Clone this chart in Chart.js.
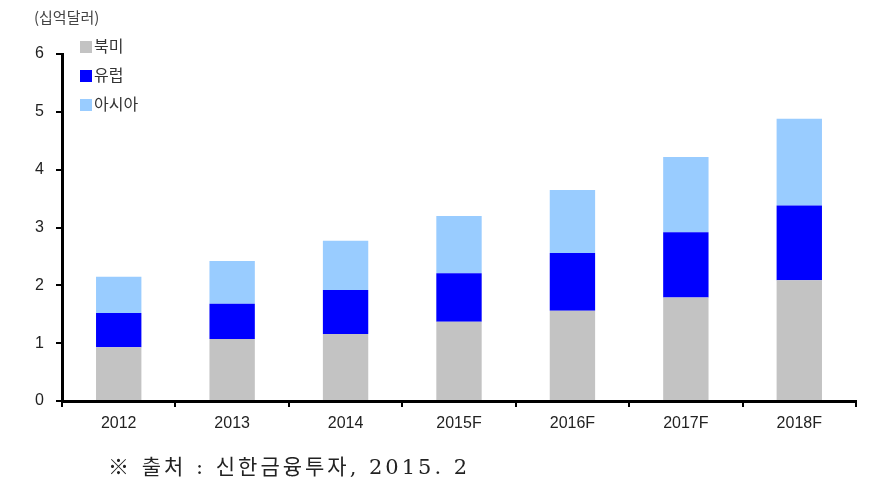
<!DOCTYPE html>
<html>
<head>
<meta charset="utf-8">
<script src="https://cdn.jsdelivr.net/npm/chart.js@4"></script>
<style>
  body { margin:0; background:#fff; }
  #wrap { position:relative; width:888px; height:490px; }
  #unit { position:absolute; left:34px; top:6px; font:15px "Noto Sans CJK KR", sans-serif; color:#444; }
  #legend { position:absolute; left:80px; top:34px; font:16px "Noto Sans CJK KR", sans-serif; color:#333; }
  #legend div { height:29px; line-height:22px; }
  #legend span { display:inline-block; width:12px; height:12px; margin-right:2px; vertical-align:-1px; }
  #note { position:absolute; left:108px; top:450px; font:21px "DejaVu Serif", "Liberation Serif", "Noto Sans CJK KR", serif; color:#222; letter-spacing:3px; }
</style>
</head>
<body>
<div id="wrap">
  <canvas id="myChart" width="888" height="490"></canvas>
  <div id="unit">(십억달러)</div>
  <div id="legend"></div>
  <div id="note">※ 출처 : 신한금융투자, 2015. 2</div>
</div>
<script>
// 데이터
const years = ["2012", "2013", "2014", "2015F", "2016F", "2017F", "2018F"];
const northAmerica = [0.93, 1.07, 1.16, 1.37, 1.56, 1.79, 2.09];
const europe = [0.59, 0.61, 0.76, 0.84, 1.00, 1.13, 1.29];
const asia = [0.63, 0.74, 0.85, 0.99, 1.09, 1.30, 1.50];
const seriesNames = ["북미", "유럽", "아시아"];
const seriesColors = ["#c3c3c3", "#0000ff", "#99ccff"];

const legend = document.getElementById("legend");
for (let i = 0; i < seriesNames.length; i++) {
    legend.innerHTML += `<div><span style="background:${seriesColors[i]}"></span>${seriesNames[i]}</div>`;
}

const tickFont = { family: "Liberation Sans, Arial, sans-serif", size: 16 };

const ctx = document.getElementById('myChart');

new Chart(ctx, {
    type: 'bar',
    data: {
        labels: years,
        datasets: [
            { label: seriesNames[0], data: northAmerica, backgroundColor: seriesColors[0] },
            { label: seriesNames[1], data: europe, backgroundColor: seriesColors[1] },
            { label: seriesNames[2], data: asia, backgroundColor: seriesColors[2] }
        ]
    },
    options: {
        responsive: false,
        animation: false,
        layout: { padding: { left: 0, right: 32, top: 54, bottom: 49 } },
        datasets: { bar: { categoryPercentage: 1, barPercentage: 0.4 } },
        plugins: { legend: { display: false }, tooltip: { enabled: false } },
        scales: {
            x: {
                stacked: true,
                afterFit: (scale) => { scale.height = 40; },
                border: { color: '#000', width: 3 },
                grid: { drawOnChartArea: false, offset: true, tickLength: 6, color: '#000', lineWidth: 2 },
                ticks: { color: '#222', font: tickFont, padding: 7 }
            },
            y: {
                stacked: true,
                min: 0,
                max: 6,
                afterFit: (scale) => { scale.width = 62; },
                border: { color: '#000', width: 3 },
                grid: { drawOnChartArea: false, tickLength: 6, color: '#000', lineWidth: 2 },
                ticks: { stepSize: 1, color: '#222', font: tickFont, padding: 12 }
            }
        }
    }
});
</script>
</body>
</html>
